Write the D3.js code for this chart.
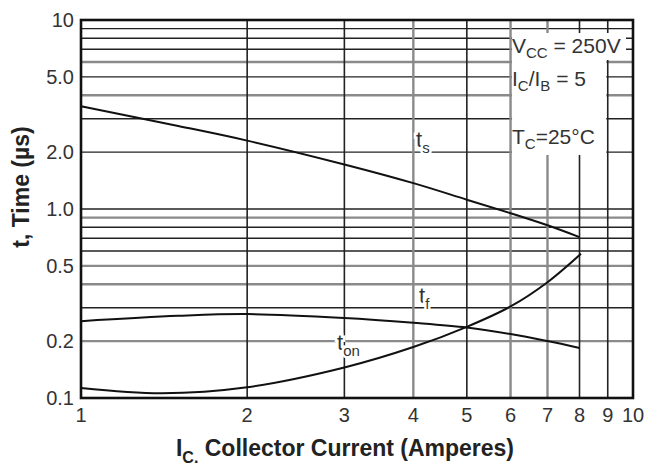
<!doctype html>
<html lang=en>
<head>
  <meta charset=utf-8>
  <title>Switching times vs collector current</title>
  <style>
    html, body {
      margin: 0;
      background: #fff;
    }
    svg text {
      font-family: "Liberation Sans Narrow", "Liberation Sans", Arial, sans-serif;
      fill: #333;
    }
    text.title {
      font-family: "Liberation Sans", Arial, sans-serif;
      font-weight: bold;
      fill: #222;
    }
    path.curve {
      fill: none;
      stroke: #111;
      stroke-width: 2;
    }
  </style>
  <script src="https://cdn.jsdelivr.net/npm/d3@7"></script>
</head>
<body>
<svg id=chart width=648 height=469></svg>
<script>
  // values
  const xTicks = [1, 2, 3, 4, 5, 6, 7, 8, 9, 10]
  const yTicks = [0.1, 0.2, 0.5, 1, 2, 5, 10]
  const yTickLabels = ['0.1', '0.2', '0.5', '1.0', '2.0', '5.0', '10']
  const yGrid = [0.2, 0.3, 0.4, 0.5, 0.6, 0.7, 0.8, 0.9, 1, 2, 3, 4, 5, 6, 7, 8, 9]

  const current = [1, 1.5, 2, 3, 4, 5, 6, 7, 8]
  const tStorage = [3.5, 2.75, 2.3, 1.72, 1.37, 1.12, 0.95, 0.82, 0.71]
  const tFall = [0.255, 0.272, 0.278, 0.265, 0.25, 0.236, 0.218, 0.2, 0.184]
  const tOnI = [1, 1.4, 2, 3, 4, 5, 6, 7, 8.05]
  const tOn = [0.113, 0.106, 0.114, 0.145, 0.186, 0.238, 0.305, 0.41, 0.58]

  // gridline look (scanned original mixes grey and black rules)
  const greyY = [0.2, 0.4, 0.5, 0.9, 4, 6]
  const greyX = [4, 6, 7]

  const svg = d3.select('#chart')
  const plotL = 81, plotR = 633, plotT = 20, plotB = 398

  const x = d3.scaleLog().domain([1, 10]).range([plotL, plotR])
  const y = d3.scaleLog().domain([0.1, 10]).range([plotB, plotT])

  const grid = svg.append('g')

  grid.selectAll('line.h')
    .data(yGrid)
    .enter()
    .append('line')
      .attr('class', 'h')
      .attr('x1', plotL)
      .attr('x2', plotR)
      .attr('y1', d => y(d))
      .attr('y2', d => y(d))
      .attr('stroke', d => greyY.includes(d) ? '#8a8a8a' : '#222')
      .attr('stroke-width', d => greyY.includes(d) ? 2.4 : 1.4)

  grid.selectAll('line.v')
    .data(xTicks.slice(1, -1))
    .enter()
    .append('line')
      .attr('class', 'v')
      .attr('x1', d => x(d))
      .attr('x2', d => x(d))
      .attr('y1', plotT)
      .attr('y2', plotB)
      .attr('stroke', d => greyX.includes(d) ? '#8a8a8a' : '#222')
      .attr('stroke-width', d => greyX.includes(d) ? 2.4 : 1.6)

  // white box behind the test conditions
  svg.append('rect')
    .attr('x', x(6) + 1.5)
    .attr('y', 33)
    .attr('width', x(9) - x(6) - 3)
    .attr('height', 122)
    .attr('fill', '#fff')
  svg.append('rect')
    .attr('x', x(9) - 2)
    .attr('y', 33)
    .attr('width', 628 - x(9))
    .attr('height', 27)
    .attr('fill', '#fff')

  const line = d3.line()
    .x(d => x(d[0]))
    .y(d => y(d[1]))
    .curve(d3.curveCatmullRom)

  svg.append('path')
    .attr('class', 'curve')
    .attr('d', line(d3.zip(current, tStorage)))
  svg.append('path')
    .attr('class', 'curve')
    .attr('d', line(d3.zip(current, tFall)))
  svg.append('path')
    .attr('class', 'curve')
    .attr('d', line(d3.zip(tOnI, tOn)))

  // frame
  svg.append('rect')
    .attr('x', plotL)
    .attr('y', plotT)
    .attr('width', plotR - plotL)
    .attr('height', plotB - plotT)
    .attr('fill', 'none')
    .attr('stroke', '#111')
    .attr('stroke-width', 2.6)

  // tick labels
  svg.append('g')
    .selectAll('text')
    .data(xTicks)
    .enter()
    .append('text')
      .attr('x', d => x(d))
      .attr('y', 422)
      .attr('text-anchor', 'middle')
      .attr('font-size', 20)
      .text(d => d)

  svg.append('g')
    .selectAll('text')
    .data(yTicks)
    .enter()
    .append('text')
      .attr('x', 74)
      .attr('y', d => y(d) + 7)
      .attr('text-anchor', 'end')
      .attr('font-size', 20)
      .text((d, i) => yTickLabels[i])

  // curve labels
  const label = (px, py, main, sub) => {
    const t = svg.append('text')
      .attr('x', px)
      .attr('y', py)
      .attr('font-size', 22)
      .attr('stroke', '#fff')
      .attr('stroke-width', 5)
      .attr('paint-order', 'stroke')
    t.append('tspan').text(main)
    t.append('tspan').attr('font-size', 15).attr('dy', 6).text(sub)
    return t
  }
  label(416, 147, 't', 's')
  label(419, 303, 't', 'f')
  label(337, 350, 't', 'on')

  // test conditions
  const cond = svg.append('g').attr('font-size', 21)
  const c1 = cond.append('text').attr('x', 512).attr('y', 53)
  c1.append('tspan').text('V')
  c1.append('tspan').attr('font-size', 15).attr('dy', 5).text('CC')
  c1.append('tspan').attr('dy', -5).text(' = 250V')
  const c2 = cond.append('text').attr('x', 512).attr('y', 86)
  c2.append('tspan').text('I')
  c2.append('tspan').attr('font-size', 15).attr('dy', 5).text('C')
  c2.append('tspan').attr('dy', -5).text('/I')
  c2.append('tspan').attr('font-size', 15).attr('dy', 5).text('B')
  c2.append('tspan').attr('dy', -5).text(' = 5')
  const c3 = cond.append('text').attr('x', 512).attr('y', 144)
  c3.append('tspan').text('T')
  c3.append('tspan').attr('font-size', 15).attr('dy', 5).text('C')
  c3.append('tspan').attr('dy', -5).text('=25°C')

  // axis titles
  const xt = svg.append('text')
    .attr('class', 'title')
    .attr('x', 345)
    .attr('y', 456)
    .attr('text-anchor', 'middle')
    .attr('font-size', 23)
  xt.append('tspan').text('I')
  xt.append('tspan').attr('font-size', 16).attr('dy', 7).text('C.')
  xt.append('tspan').attr('dy', -7).text(' Collector Current (Amperes)')

  svg.append('text')
    .attr('class', 'title')
    .attr('transform', 'translate(29,187) rotate(-90)')
    .attr('text-anchor', 'middle')
    .attr('font-size', 23)
    .text('t, Time (µs)')
</script>
</body>
</html>
